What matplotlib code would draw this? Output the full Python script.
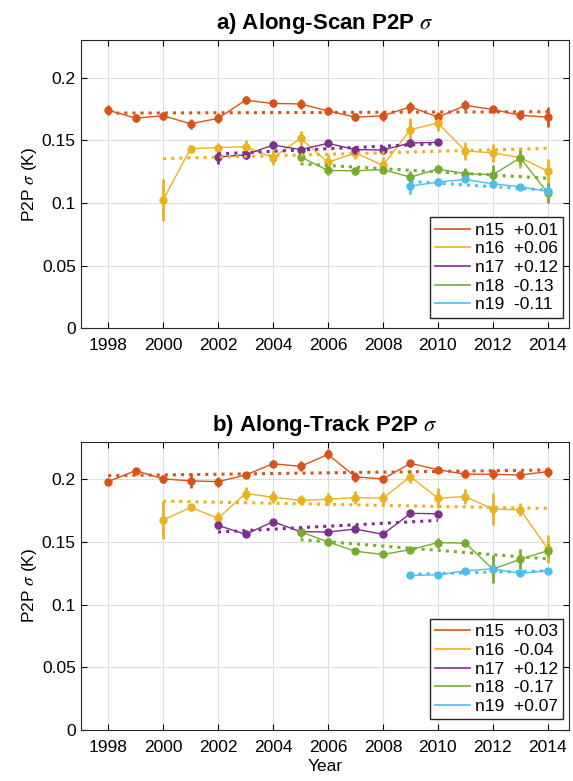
import matplotlib
matplotlib.use('Agg')
import matplotlib.pyplot as plt
from matplotlib.lines import Line2D

plt.rcParams['font.family'] = ['Liberation Sans', 'DejaVu Sans']
plt.rcParams['mathtext.fontset'] = 'stix'

# satellites and their year coverage
sats = ['n15', 'n16', 'n17', 'n18', 'n19']
colors = ['#D95319', '#EDB120', '#7E2F8E', '#77AC30', '#4DBEEE']
years = [list(range(1998, 2015)), list(range(2000, 2015)), list(range(2002, 2011)),
         list(range(2005, 2015)), list(range(2009, 2015))]
year_ticks = list(range(1998, 2015, 2))

# along-scan P2P sigma (K)
scan_vals = [
    [0.174, 0.1677, 0.1696, 0.1632, 0.1675, 0.182, 0.1794, 0.179, 0.1735, 0.1685, 0.1696,
     0.1767, 0.1685, 0.1778, 0.1746, 0.170, 0.1685],
    [0.1024, 0.1434, 0.1442, 0.145, 0.1362, 0.1516, 0.1325, 0.140, 0.130, 0.1585, 0.1638,
     0.1415, 0.140, 0.1362, 0.1254],
    [0.1368, 0.1384, 0.1463, 0.1426, 0.1476, 0.1426, 0.1423, 0.1479, 0.1484],
    [0.1368, 0.126, 0.1257, 0.1267, 0.1206, 0.1272, 0.1233, 0.1227, 0.136, 0.108],
    [0.1135, 0.1167, 0.1188, 0.1153, 0.113, 0.1093],
]
scan_errs = [
    [0.004, 0.003, 0.003, 0.004, 0.004, 0.003, 0.003, 0.004, 0.003, 0.003, 0.004,
     0.004, 0.004, 0.004, 0.003, 0.004, 0.008],
    [0.017, 0.003, 0.004, 0.005, 0.006, 0.006, 0.007, 0.005, 0.007, 0.009, 0.006,
     0.007, 0.007, 0.008, 0.010],
    [0.006, 0.003, 0.003, 0.003, 0.002, 0.003, 0.003, 0.003, 0.002],
    [0.003, 0.004, 0.003, 0.003, 0.005, 0.003, 0.005, 0.008, 0.006, 0.008],
    [0.006, 0.003, 0.002, 0.003, 0.002, 0.004],
]
scan_trend = [(0.1717, 0.1728), (0.1354, 0.1436), (0.1392, 0.1474), (0.1312, 0.1198), (0.1172, 0.1103)]
scan_rates = ['+0.01', '+0.06', '+0.12', '-0.13', '-0.11']

# along-track P2P sigma (K)
track_vals = [
    [0.1981, 0.2069, 0.2003, 0.1987, 0.1981, 0.2034, 0.2124, 0.2103, 0.2198, 0.2019, 0.2003,
     0.2127, 0.2077, 0.204, 0.204, 0.2034, 0.2061],
    [0.1675, 0.1775, 0.169, 0.1886, 0.1857, 0.1831, 0.1841, 0.1854, 0.1849, 0.2021, 0.1849,
     0.1862, 0.1762, 0.1757, 0.1444],
    [0.1632, 0.1561, 0.1661, 0.1582, 0.1579, 0.1603, 0.1561, 0.1728, 0.1725],
    [0.1582, 0.150, 0.1426, 0.140, 0.1439, 0.1495, 0.149, 0.1283, 0.1362, 0.1431],
    [0.1233, 0.1238, 0.127, 0.1286, 0.1249, 0.1272],
]
track_errs = [
    [0.003, 0.002, 0.003, 0.006, 0.004, 0.002, 0.003, 0.004, 0.004, 0.004, 0.003,
     0.003, 0.003, 0.003, 0.004, 0.003, 0.004],
    [0.015, 0.003, 0.005, 0.005, 0.005, 0.004, 0.005, 0.005, 0.005, 0.005, 0.008,
     0.006, 0.013, 0.005, 0.011],
    [0.003, 0.002, 0.002, 0.002, 0.002, 0.002, 0.002, 0.003, 0.002],
    [0.004, 0.003, 0.002, 0.002, 0.002, 0.004, 0.003, 0.011, 0.008, 0.005],
    [0.002, 0.002, 0.002, 0.003, 0.002, 0.002],
]
track_trend = [(0.2029, 0.2074), (0.1825, 0.1767), (0.1579, 0.1672), (0.1518, 0.1365), (0.1243, 0.127)]
track_rates = ['+0.03', '-0.04', '+0.12', '-0.17', '+0.07']


def draw_panel(ax, vals, errs, trend, rates, title):
    for sat, c, yr, v, e, tr in zip(sats, colors, years, vals, errs, trend):
        ax.errorbar(yr, v, yerr=e, fmt='-o', color=c, lw=1, ms=5,
                    elinewidth=2, capsize=0, zorder=3)
        ax.plot([yr[0], yr[-1]], tr, ':', color=c, lw=2.2, zorder=4)
    ax.set_xlim(1997, 2014.77)
    ax.set_ylim(0, 0.23)
    ax.set_xticks(year_ticks)
    ax.set_yticks([0, 0.05, 0.1, 0.15, 0.2])
    ax.set_yticklabels(['0', '0.05', '0.1', '0.15', '0.2'])
    ax.grid(True, color='#dedede', lw=0.8)
    ax.set_axisbelow(True)
    ax.tick_params(direction='in', top=True, right=True, labelsize=12.5, length=4)
    ax.tick_params(axis='x', pad=7)
    for s in ax.spines.values():
        s.set_color('#262626')
    ax.set_ylabel(r'P2P $\sigma$ (K)', fontsize=12.5, labelpad=2)
    ax.set_title(title, fontsize=16, fontweight='bold', pad=8)
    handles = [Line2D([], [], color=c, lw=1.2) for c in colors]
    labels = [f'{s}  {r}' for s, r in zip(sats, rates)]
    leg = ax.legend(handles, labels, loc='lower right', fontsize=12.5, fancybox=False,
                    framealpha=1, edgecolor='#262626', handlelength=2.0,
                    borderpad=0.3, labelspacing=0.2, handletextpad=0.3,
                    borderaxespad=0, bbox_to_anchor=(0.988, 0.038))
    leg.get_frame().set_linewidth(1)


fig = plt.figure(figsize=(5.73, 7.81), dpi=100)
ax1 = fig.add_axes([0.1408, 0.5794, 0.8522, 0.3694])
ax2 = fig.add_axes([0.1408, 0.0653, 0.8522, 0.3692])

draw_panel(ax1, scan_vals, scan_errs, scan_trend, scan_rates, r'a) Along-Scan P2P $\sigma$')
draw_panel(ax2, track_vals, track_errs, track_trend, track_rates, r'b) Along-Track P2P $\sigma$')
ax2.set_xlabel('Year', fontsize=12.5, labelpad=3)

fig.savefig('out.png', dpi=100)
